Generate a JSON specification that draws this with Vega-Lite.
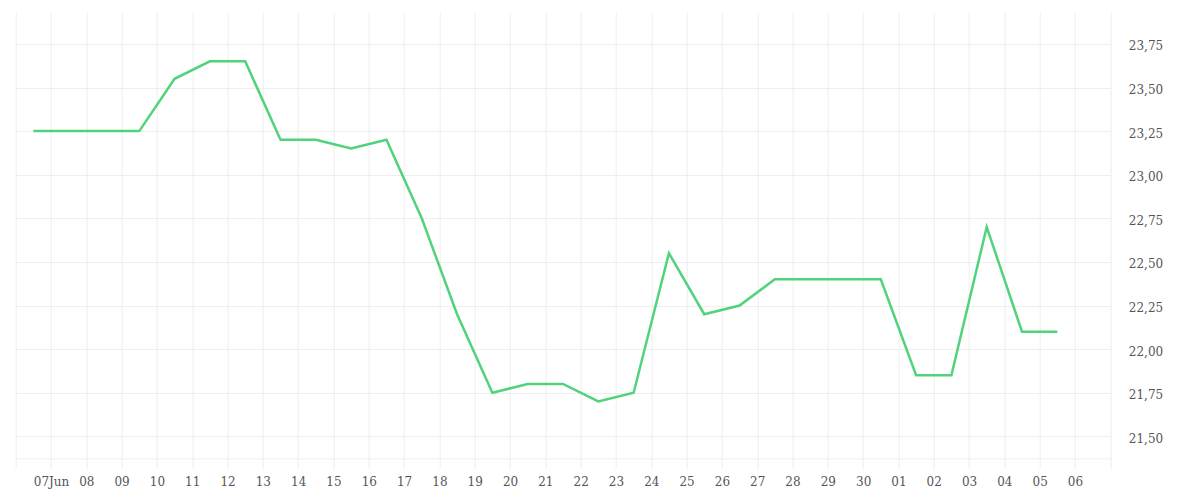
{
  "$schema": "https://vega.github.io/schema/vega-lite/v6.json",
  "width": 1094.6,
  "height": 446.3,
  "autosize": {"type": "none"},
  "padding": {"left": 15.7, "top": 12, "right": 89.7, "bottom": 41.7},
  "background": "white",
  "config": {
    "view": {"stroke": null},
    "font": "DejaVu Serif",
    "axis": {
      "labelFont": "DejaVu Serif",
      "labelFontSize": 12,
      "labelColor": "#555",
      "gridColor": "#eeeeee",
      "gridWidth": 1,
      "tickColor": "#eeeeee",
      "domainColor": "#eeeeee",
      "title": null
    }
  },
  "data": {
    "values": [
      {"date": "2024-06-06T12:00:00", "price": 23.25},
      {"date": "2024-06-07T12:00:00", "price": 23.25},
      {"date": "2024-06-08T12:00:00", "price": 23.25},
      {"date": "2024-06-09T12:00:00", "price": 23.25},
      {"date": "2024-06-10T12:00:00", "price": 23.55},
      {"date": "2024-06-11T12:00:00", "price": 23.65},
      {"date": "2024-06-12T12:00:00", "price": 23.65},
      {"date": "2024-06-13T12:00:00", "price": 23.20},
      {"date": "2024-06-14T12:00:00", "price": 23.20},
      {"date": "2024-06-15T12:00:00", "price": 23.15},
      {"date": "2024-06-16T12:00:00", "price": 23.20},
      {"date": "2024-06-17T12:00:00", "price": 22.75},
      {"date": "2024-06-18T12:00:00", "price": 22.20},
      {"date": "2024-06-19T12:00:00", "price": 21.75},
      {"date": "2024-06-20T12:00:00", "price": 21.80},
      {"date": "2024-06-21T12:00:00", "price": 21.80},
      {"date": "2024-06-22T12:00:00", "price": 21.70},
      {"date": "2024-06-23T12:00:00", "price": 21.75},
      {"date": "2024-06-24T12:00:00", "price": 22.55},
      {"date": "2024-06-25T12:00:00", "price": 22.20},
      {"date": "2024-06-26T12:00:00", "price": 22.25},
      {"date": "2024-06-27T12:00:00", "price": 22.40},
      {"date": "2024-06-28T12:00:00", "price": 22.40},
      {"date": "2024-06-29T12:00:00", "price": 22.40},
      {"date": "2024-06-30T12:00:00", "price": 22.40},
      {"date": "2024-07-01T12:00:00", "price": 21.85},
      {"date": "2024-07-02T12:00:00", "price": 21.85},
      {"date": "2024-07-03T12:00:00", "price": 22.70},
      {"date": "2024-07-04T12:00:00", "price": 22.10},
      {"date": "2024-07-05T12:00:00", "price": 22.10}
    ]
  },
  "mark": {"type": "line", "color": "#51d37c", "strokeWidth": 2.5},
  "encoding": {
    "x": {
      "field": "date",
      "type": "temporal",
      "scale": {
        "domain": [
          {"year": 2024, "month": 6, "date": 6},
          {"year": 2024, "month": 7, "date": 7}
        ]
      },
      "axis": {
        "tickCount": {"interval": "day", "step": 1},
        "tickSize": 10,
        "labelPadding": 8,
        "labelOverlap": false,
        "labelBound": false,
        "labelFlush": false,
        "labelExpr": "(month(datum.value) == 5 && date(datum.value) == 6) || (month(datum.value) == 6 && date(datum.value) == 7) ? '' : (month(datum.value) == 5 && date(datum.value) == 7 ? '07Jun' : timeFormat(datum.value, '%d'))"
      }
    },
    "y": {
      "field": "price",
      "type": "quantitative",
      "scale": {"domain": [21.374, 23.933], "nice": false, "zero": false},
      "axis": {
        "orient": "right",
        "values": [21.5, 21.75, 22, 22.25, 22.5, 22.75, 23, 23.25, 23.5, 23.75],
        "ticks": false,
        "domain": false,
        "labelPadding": 18,
        "labelOffset": 2,
        "labelExpr": "replace(format(datum.value, '.2f'), '.', ',')"
      }
    }
  }
}
